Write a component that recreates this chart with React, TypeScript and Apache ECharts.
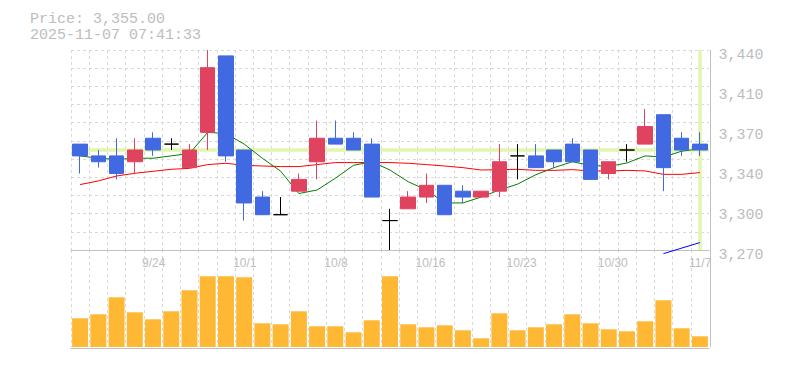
import React, { useEffect, useRef } from 'react';
import * as echarts from 'echarts';

const dates = ['9/17','9/18','9/19','9/22','9/24','9/25','9/26','9/29','9/30','10/1','10/2','10/3','10/6','10/7','10/8','10/9','10/10','10/14','10/15','10/16','10/17','10/20','10/21','10/22','10/23','10/24','10/27','10/28','10/29','10/30','10/31','11/4','11/5','11/6','11/7'];
const xTickLabels = ['9/24','10/1','10/8','10/16','10/23','10/30','11/7'];

const opens  = [3360,3350,3350,3345,3365,3360,3340,3370,3435,3355,3315,3300,3320,3345,3365,3365,3360,3295,3305,3315,3325,3320,3315,3320,3350,3350,3355,3360,3355,3335,3355,3360,3385,3365,3360];
const highs  = [3360,3355,3365,3365,3370,3365,3360,3440,3435,3355,3320,3315,3335,3380,3380,3370,3365,3305,3320,3335,3325,3325,3320,3360,3360,3360,3355,3365,3355,3345,3360,3390,3385,3370,3370];
const lows   = [3335,3340,3330,3335,3350,3355,3340,3355,3345,3295,3300,3300,3320,3330,3360,3355,3315,3270,3305,3310,3300,3310,3315,3315,3330,3340,3340,3345,3330,3330,3345,3360,3320,3350,3350];
const closes = [3350,3345,3335,3355,3355,3360,3355,3425,3350,3310,3300,3300,3330,3365,3360,3355,3315,3295,3315,3325,3300,3315,3320,3345,3350,3340,3345,3345,3330,3345,3355,3375,3340,3355,3355];

const ma5 = [3350,3348,3347,3348,3348,3350,3352,3370,3369,3360,3348,3337,3318,3321,3331,3342,3345,3338,3328,3321,3310,3310,3315,3321,3326,3334,3340,3345,3342,3341,3344,3350,3349,3354,3356];
const ma25 = [3325.6,3328.7,3332.9,3335.2,3336.9,3338.6,3339.4,3342.6,3343.7,3342.0,3341.4,3340.9,3340.9,3342.6,3344.3,3344.3,3344.3,3344.3,3343.7,3342.6,3341.4,3340.0,3338.0,3338.3,3338.6,3337.7,3337.7,3338.3,3337.2,3337.2,3337.7,3337.2,3334.3,3334.3,3335.8];
const ma75: (number | null)[] = [null,null,null,null,null,null,null,null,null,null,null,null,null,null,null,null,null,null,null,null,null,null,null,null,null,null,null,null,null,null,null,null,3266.9,3271.6,3276.3];

const volumes = [28700,32700,49700,34700,27700,35700,56700,70700,70700,69700,23700,22700,35700,20700,20700,14700,26700,70700,22700,19700,21700,16700,8700,33700,16700,19700,22700,32700,23700,17700,15700,25700,46700,18700,10700];

const yTickLabels = ['3,270','3,300','3,340','3,370','3,410','3,440'];
const priceMin = 3270;
const priceMax = 3440;
const volumeMax = 97000;
const lastPrice = 3355;
const titleLine1 = 'Price: 3,355.00';
const titleLine2 = '2025-11-07 07:41:33';

const RED = '#e0435f';
const BLUE = '#4169e1';
const ORANGE = '#ffb833';
const HILITE = '#e2f5ae';
const GRIDC = '#d9d9d9';
const AXISC = '#c0c0c0';
const TEXTC = '#bdbdbd';

export default function App() {
  const ref = useRef<HTMLDivElement>(null);
  useEffect(() => {
    document.body.style.margin = '0';
    if (!ref.current) return;
    const chart = echarts.init(ref.current, null, { renderer: 'svg' });
    const candleData = dates.map((_, i) => {
      const v = [opens[i], closes[i], lows[i], highs[i]];
      if (opens[i] === closes[i]) {
        return {
          value: v,
          itemStyle: { color: '#000', color0: '#000', borderColor: '#000', borderColor0: '#000', borderColorDoji: '#000' },
        };
      }
      return { value: v };
    });
    const dashed = { show: true, interval: 0, showMaxLine: false, lineStyle: { color: GRIDC, type: [3, 3], width: 1 } };
    chart.setOption({
      animation: false,
      graphic: [
        { type: 'text', left: 30, top: 11.5, style: { text: titleLine1, fill: TEXTC, font: '15px "Liberation Mono"' } },
        { type: 'text', left: 30, top: 27.5, style: { text: titleLine2, fill: TEXTC, font: '15px "Liberation Mono"' } },
      ],
      grid: [
        { left: 71, width: 638, top: 50, height: 200 },
        { left: 71, width: 638, top: 250, height: 97 },
      ],
      xAxis: [
        {
          type: 'category', gridIndex: 0, data: dates, boundaryGap: true,
          axisLine: { show: true, lineStyle: { color: AXISC } }, axisTick: { show: false }, axisLabel: { show: false },
          splitLine: dashed,
        },
        {
          type: 'category', gridIndex: 1, position: 'top', data: dates, boundaryGap: true,
          axisLine: { show: false }, axisTick: { show: false },
          axisLabel: {
            show: true, inside: true, interval: (_i: number, v: string) => xTickLabels.includes(v),
            align: 'left', padding: [0, 0, 0, -11], margin: 7, color: TEXTC, fontFamily: 'Liberation Sans', fontSize: 12,
          },
          splitLine: dashed,
        },
        {
          type: 'category', gridIndex: 1, position: 'bottom', data: dates, offset: 1,
          axisLine: { show: true, lineStyle: { color: AXISC } }, axisTick: { show: false }, axisLabel: { show: false }, splitLine: { show: false },
        },
      ],
      yAxis: [
        { type: 'value', gridIndex: 0, min: priceMin, max: priceMax, position: 'right', show: false },
        {
          type: 'value', gridIndex: 0, min: 0, max: 11, interval: 1, position: 'left',
          axisLine: { show: false }, axisTick: { show: false }, axisLabel: { show: false },
          splitLine: { show: true, showMinLine: false, lineStyle: { color: GRIDC, type: [3, 3], width: 1 } },
        },
        {
          type: 'value', gridIndex: 0, min: 0, max: 5, interval: 1, position: 'right', offset: 1.5,
          axisLine: { show: true, lineStyle: { color: AXISC } }, axisTick: { show: false }, splitLine: { show: false },
          axisLabel: {
            formatter: (v: number) => yTickLabels[Math.round(v)] ?? '',
            margin: 8, color: TEXTC, fontFamily: 'Liberation Mono', fontSize: 15, align: 'left',
            verticalAlign: 'top', lineHeight: 10,
          },
        },
        {
          type: 'value', gridIndex: 1, min: 0, max: volumeMax, position: 'right', offset: 1.5,
          axisLine: { show: true, lineStyle: { color: AXISC } }, axisTick: { show: false }, axisLabel: { show: false }, splitLine: { show: false },
        },
      ],
      series: [
        {
          type: 'line', xAxisIndex: 0, yAxisIndex: 0, data: ma5, symbol: 'none', z: 2,
          lineStyle: { color: '#008000', width: 1 }, itemStyle: { color: '#008000' },
        },
        {
          type: 'line', xAxisIndex: 0, yAxisIndex: 0, data: ma25, symbol: 'none', z: 2,
          lineStyle: { color: '#ff0000', width: 1 }, itemStyle: { color: '#ff0000' },
        },
        {
          type: 'line', xAxisIndex: 0, yAxisIndex: 0, data: ma75, symbol: 'none', z: 2, clip: false,
          lineStyle: { color: '#0000ff', width: 1 }, itemStyle: { color: '#0000ff' },
        },
        {
          type: 'candlestick', xAxisIndex: 0, yAxisIndex: 0, data: candleData, barWidth: 15, z: 3,
          itemStyle: { color: RED, color0: BLUE, borderColor: RED, borderColor0: BLUE, borderColorDoji: '#000', borderWidth: 1 },
          markLine: {
            silent: true, symbol: ['none', 'none'], z: 1, animation: false,
            label: { show: false },
            lineStyle: { color: HILITE, width: 3.5, type: 'solid' },
            emphasis: { disabled: true },
            data: [{ yAxis: lastPrice }, { xAxis: dates[dates.length - 1] }],
          },
        },
        {
          type: 'bar', xAxisIndex: 1, yAxisIndex: 3, data: volumes, barWidth: 16,
          itemStyle: { color: ORANGE },
        },
      ],
    });
    return () => chart.dispose();
  }, []);
  return <div ref={ref} style={{ width: 785, height: 370 }} />;
}
